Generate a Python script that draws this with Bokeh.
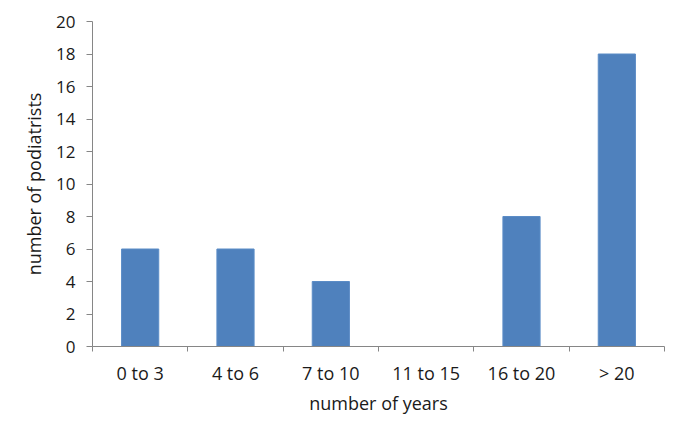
from bokeh.plotting import figure
from bokeh.models import FixedTicker, Range1d
from bokeh.embed import file_html
from bokeh.resources import INLINE

categories = ["0 to 3", "4 to 6", "7 to 10", "11 to 15", "16 to 20", "> 20"]
values = [6, 6, 4, 0, 8, 18]
y_ticks = [0, 2, 4, 6, 8, 10, 12, 14, 16, 18, 20]

FONT = "Open Sans"
AXIS = "#868686"
TXT = "#1a1a1a"

n = len(categories)
xs = [i + 0.5 for i in range(n)]

p = figure(frame_width=572, frame_height=325, output_backend="svg", toolbar_location=None,
           x_range=Range1d(0, n), y_range=Range1d(0, 20),
           min_border_left=92, min_border_top=21, min_border_right=13, min_border_bottom=85)
p.outline_line_color = None
p.grid.grid_line_color = None

p.vbar(x=xs, top=values, width=0.39, bottom=0, fill_color="#4F81BD", line_color="#5B8CC6", line_width=1)

xa = p.xaxis[0]
xa.ticker = FixedTicker(ticks=xs, minor_ticks=list(range(n + 1)))
xa.major_label_overrides = {x: c for x, c in zip(xs, categories)}
xa.major_tick_out = 0
xa.major_tick_in = 0
xa.minor_tick_out = 5
xa.minor_tick_in = 0
xa.minor_tick_line_color = AXIS
xa.axis_line_color = AXIS
xa.major_label_text_font = FONT
xa.major_label_text_font_size = "18px"
xa.major_label_text_color = TXT
xa.major_label_standoff = 9
xa.axis_label = "number of years"
xa.axis_label_text_font = FONT
xa.axis_label_text_font_size = "18px"
xa.axis_label_text_font_style = "normal"
xa.axis_label_text_color = TXT
xa.axis_label_standoff = 3

ya = p.yaxis[0]
ya.ticker = FixedTicker(ticks=y_ticks, minor_ticks=[])
ya.major_tick_out = 6
ya.major_tick_in = 0
ya.major_tick_line_color = AXIS
ya.axis_line_color = AXIS
ya.major_label_text_font = FONT
ya.major_label_text_font_size = "17px"
ya.major_label_text_color = TXT
ya.major_label_standoff = 11
ya.axis_label = "number of podiatrists"
ya.axis_label_text_font = FONT
ya.axis_label_text_font_size = "18px"
ya.axis_label_text_font_style = "normal"
ya.axis_label_text_color = TXT
ya.axis_label_standoff = 7

open("out.html", "w").write(file_html(p, INLINE))
